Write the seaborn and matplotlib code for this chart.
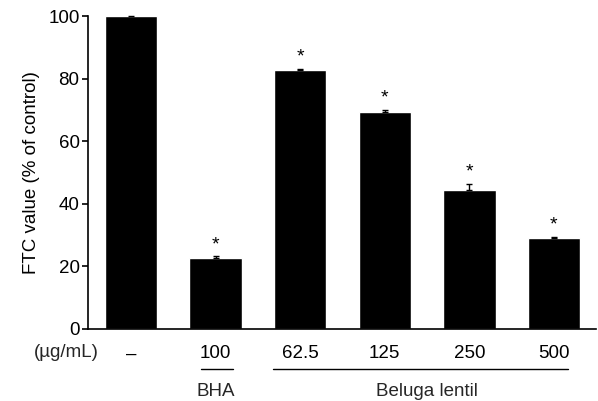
import numpy as np
import pandas as pd
import seaborn as sns
from matplotlib import pyplot as plt

# values
groups = ["Control", "BHA 100", "BL 62.5", "BL 125", "BL 250", "BL 500"]
dose_labels = ["\u2013", "100", "62.5", "125", "250", "500"]
ftc_values = [100.0, 22.5, 82.6, 69.3, 44.4, 29.0]
ftc_errors = [np.nan, 0.7, 0.6, 0.7, 1.9, 0.5]
significant = [False, True, True, True, True, True]

sns.set_theme(style="ticks")
plt.rcParams["font.family"] = ["Liberation Sans", "DejaVu Sans"]

df = pd.DataFrame({"group": groups, "ftc": ftc_values})

fig = plt.figure(figsize=(5.98, 4.01), dpi=100)
ax = fig.add_axes([0.147, 0.180, 0.850, 0.780])
sns.barplot(data=df, x="group", y="ftc", color="black", width=0.62,
            saturation=1, errorbar=None, ax=ax)
for p in ax.patches:
    p.set_clip_on(False)

x = np.arange(len(groups))
err_low = np.zeros(len(ftc_errors))
ax.errorbar(x, ftc_values, yerr=[err_low, ftc_errors], fmt="none",
            ecolor="black", elinewidth=1, capsize=2.5, capthick=1, clip_on=False)
for xi, v, e, s in zip(x, ftc_values, ftc_errors, significant):
    if s:
        ax.text(xi, v + e + 1.0, "*", ha="center", va="bottom", fontsize=14, color="black")

ax.set_ylim(0, 100)
ax.set_xlim(-0.51, 5.5)
ax.set_yticks([0, 20, 40, 60, 80, 100])
ax.tick_params(axis="y", labelsize=13.5, length=4, width=1.2, colors="black", pad=2)
ax.tick_params(axis="x", length=0, labelsize=13.5, pad=12, colors="black")
ax.set_xticks(x)
ax.set_xticklabels(dose_labels)
ax.set_xlabel("")
ax.set_ylabel("FTC value (% of control)", fontsize=13.5, color="black", labelpad=6)
sns.despine(ax=ax)
for sp in ["left", "bottom"]:
    ax.spines[sp].set_linewidth(1.2)
    ax.spines[sp].set_color("black")

# group annotations below the axis
trans = ax.get_xaxis_transform()
ax.text(-0.76, -0.075, "(\u00b5g/mL)", transform=trans,
        ha="center", va="center", fontsize=13.5)
ax.plot([0.83, 1.2], [-0.13, -0.13], color="black", lw=1, transform=trans, clip_on=False)
ax.plot([1.68, 5.17], [-0.13, -0.13], color="black", lw=1, transform=trans, clip_on=False)
ax.text(1, -0.2, "BHA", transform=trans, ha="center", va="center", fontsize=13.5)
ax.text(3.5, -0.2, "Beluga lentil", transform=trans, ha="center", va="center", fontsize=13.5)

fig.savefig("out.png", dpi=100)
